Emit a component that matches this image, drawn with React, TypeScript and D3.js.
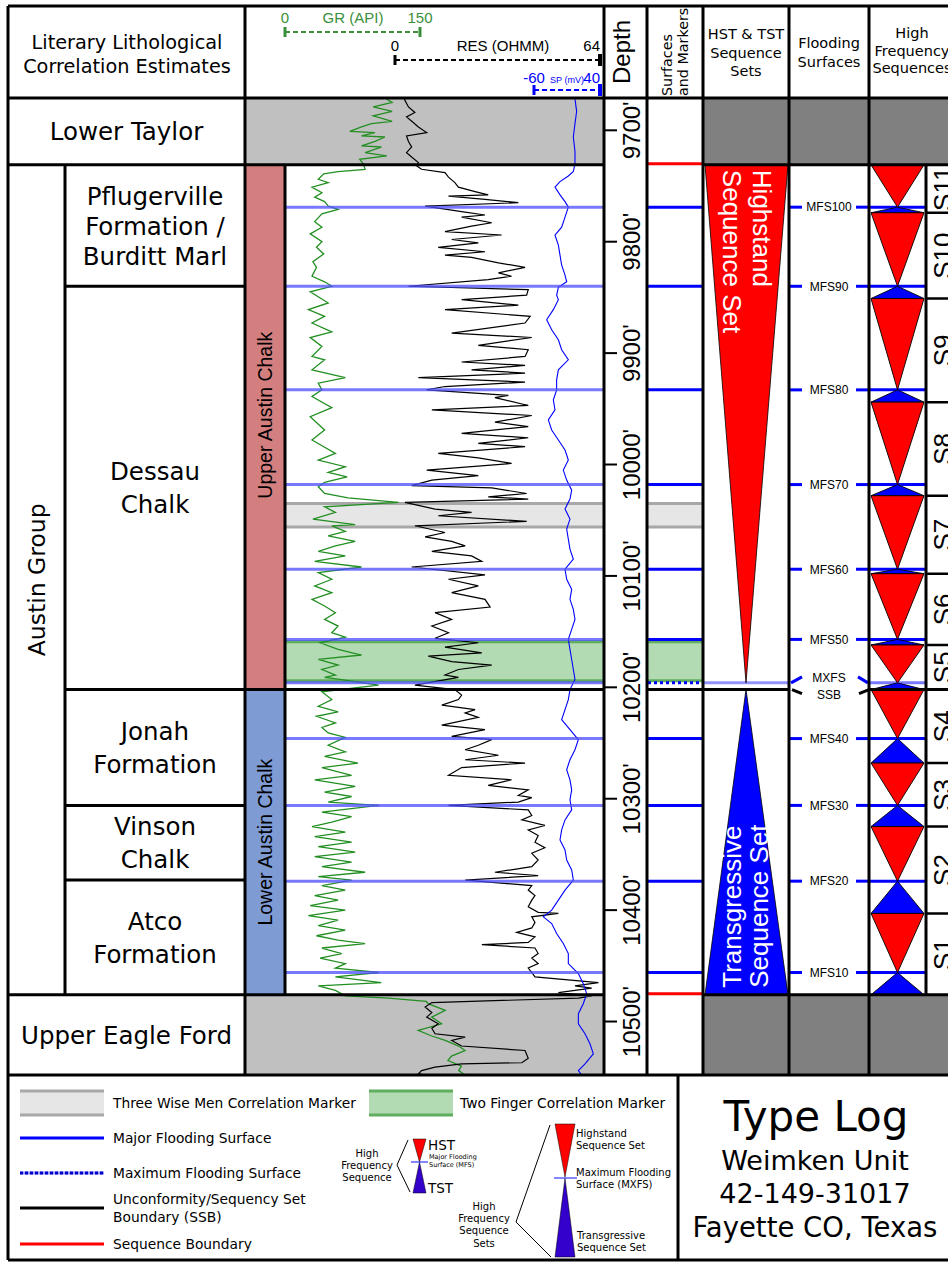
import React from 'react';
import * as d3 from 'd3';

const SANS = "'DejaVu Sans', Verdana, sans-serif";
const ARIAL = "'Liberation Sans', Arial, Helvetica, sans-serif";

// depth axis
const depthTicks = [9700, 9800, 9900, 10000, 10100, 10200, 10300, 10400, 10500];

// log curves: [depth ft, value]
const grLog: [number, number][] = [
  [9672, 113], [9675, 119], [9679, 98], [9683, 119], [9687, 98], [9692, 119], [9694, 96], [9697, 85], [9701, 72], [9702, 100],
  [9705, 85], [9706, 111], [9710, 100], [9714, 85], [9715, 107], [9720, 89], [9723, 113], [9726, 83], [9730, 87], [9735, 89],
  [9737, 59], [9739, 43], [9744, 37], [9747, 48], [9751, 30], [9756, 41], [9760, 33], [9764, 44], [9768, 48], [9771, 59],
  [9775, 41], [9782, 33], [9787, 41], [9793, 28], [9800, 41], [9805, 35], [9811, 43], [9818, 31], [9823, 35], [9831, 30],
  [9836, 44], [9840, 52], [9845, 28], [9855, 48], [9861, 26], [9867, 44], [9873, 30], [9881, 52], [9886, 28], [9894, 41],
  [9903, 30], [9906, 44], [9915, 30], [9922, 67], [9927, 37], [9933, 41], [9939, 30], [9949, 52], [9957, 28], [9969, 44],
  [9978, 30], [9990, 56], [9996, 37], [10002, 67], [10007, 48], [10011, 69], [10016, 44], [10020, 37], [10026, 44], [10030, 70],
  [10034, 126], [10038, 44], [10043, 56], [10049, 31], [10054, 78], [10055, 52], [10060, 67], [10064, 48], [10069, 78], [10073, 56],
  [10078, 37], [10082, 67], [10087, 33], [10092, 85], [10097, 37], [10103, 52], [10109, 33], [10115, 52], [10121, 30], [10127, 44],
  [10133, 56], [10139, 44], [10145, 59], [10151, 52], [10155, 67], [10160, 39], [10166, 59], [10171, 85], [10175, 37], [10180, 59],
  [10184, 41], [10189, 56], [10191, 44], [10193, 63], [10198, 104], [10204, 41], [10211, 52], [10217, 37], [10222, 59], [10226, 35],
  [10232, 56], [10236, 41], [10241, 48], [10245, 67], [10252, 48], [10258, 67], [10262, 44], [10268, 81], [10272, 41], [10279, 74],
  [10283, 33], [10289, 78], [10294, 44], [10298, 74], [10303, 48], [10306, 104], [10312, 41], [10316, 74], [10321, 52], [10325, 30],
  [10330, 67], [10334, 33], [10339, 74], [10343, 37], [10348, 78], [10352, 33], [10357, 74], [10361, 41], [10366, 89], [10370, 37],
  [10373, 74], [10378, 41], [10382, 67], [10387, 33], [10391, 59], [10396, 28], [10400, 67], [10405, 26], [10409, 59], [10414, 37],
  [10418, 67], [10423, 35], [10427, 59], [10430, 89], [10434, 41], [10439, 63], [10443, 39], [10448, 67], [10452, 56], [10456, 104],
  [10460, 56], [10465, 107], [10468, 37], [10472, 56], [10477, 67], [10479, 115], [10482, 157], [10484, 159], [10490, 178], [10496, 163],
  [10502, 174], [10508, 148], [10513, 163], [10517, 178], [10522, 193], [10526, 200], [10531, 185], [10535, 181], [10540, 196], [10544, 193],
  [10548, 200],
];

const resLog: [number, number][] = [
  [9672, 2.9], [9679, 4.2], [9684, 6.2], [9688, 3.6], [9693, 5.7], [9697, 7.3], [9702, 9.9], [9705, 3.6], [9710, 4.2], [9715, 5.2],
  [9720, 3.6], [9724, 5.2], [9729, 7.3], [9732, 6.8], [9735, 8.3], [9738, 15.6], [9742, 16.7], [9747, 18.7], [9751, 19.8], [9755, 25],
  [9758, 29.1], [9759, 16.7], [9762, 28.1], [9765, 38.5], [9768, 9.4], [9773, 20.8], [9776, 28.1], [9778, 20.8], [9783, 30.2], [9786, 23.9],
  [9791, 15.6], [9794, 33.3], [9798, 17.7], [9801, 26], [9805, 13.5], [9809, 28.1], [9812, 15.6], [9814, 23.9], [9819, 32.3], [9823, 40.6],
  [9828, 32.3], [9831, 36.4], [9834, 29.1], [9840, 4.2], [9843, 41.6], [9848, 41.1], [9852, 20.8], [9857, 38.5], [9861, 15.6], [9867, 42.2],
  [9873, 40.6], [9882, 17.7], [9886, 42.7], [9893, 26], [9897, 41.6], [9903, 40.6], [9908, 20.8], [9911, 40.6], [9915, 23.9], [9918, 40.6],
  [9922, 7.3], [9926, 40.6], [9930, 15.6], [9933, 9.9], [9938, 35.4], [9940, 31.2], [9947, 41.6], [9951, 11.5], [9956, 42.7], [9962, 31.2],
  [9966, 41.6], [9972, 20.8], [9976, 41.6], [9981, 26], [9984, 40.6], [9990, 13.5], [9994, 26], [9999, 36.4], [10005, 9.9], [10010, 26],
  [10014, 11.5], [10019, 5.2], [10021, 30.2], [10026, 41.1], [10029, 29.1], [10031, 41.6], [10034, 3.1], [10040, 12.5], [10043, 23.9], [10046, 13.5],
  [10051, 41.1], [10055, 6.2], [10061, 15.6], [10065, 9.4], [10069, 17.7], [10073, 21.9], [10078, 11.5], [10082, 23.9], [10087, 27.1], [10092, 5.2],
  [10099, 28.1], [10103, 16.7], [10109, 26], [10115, 17.7], [10121, 28.1], [10128, 29.7], [10133, 12.5], [10139, 17.7], [10145, 11.5], [10151, 16.7],
  [10156, 12.5], [10160, 26], [10164, 15.6], [10169, 27.1], [10172, 10.4], [10177, 17.7], [10180, 30.2], [10184, 19.8], [10189, 15.6], [10191, 19.8],
  [10198, 6.2], [10202, 18.7], [10207, 20.8], [10211, 19.8], [10216, 14.6], [10220, 25], [10223, 21.9], [10227, 26], [10234, 14.6], [10238, 28.1],
  [10244, 17.7], [10247, 30.2], [10252, 26], [10256, 21.9], [10261, 32.3], [10265, 21.9], [10268, 40.6], [10272, 20.8], [10279, 16.7], [10283, 36.4],
  [10288, 29.1], [10292, 41.6], [10297, 38.5], [10299, 42.7], [10303, 38.5], [10306, 16.7], [10310, 41.6], [10315, 42.7], [10319, 39.6], [10324, 46.8],
  [10328, 41.6], [10333, 44.7], [10339, 43.7], [10344, 46.8], [10349, 42.7], [10355, 44.7], [10361, 42.7], [10366, 31.2], [10369, 44.7], [10373, 21.9],
  [10378, 42.7], [10382, 41.6], [10387, 43.7], [10391, 42.7], [10397, 41.6], [10402, 44.7], [10403, 51], [10406, 42.7], [10411, 43.7], [10416, 42.7],
  [10420, 38], [10424, 43.7], [10429, 41.6], [10431, 27.1], [10434, 43.7], [10439, 44.7], [10443, 42.7], [10448, 44.7], [10452, 41.6], [10456, 42.7],
  [10460, 43.7], [10465, 63.5], [10468, 56.2], [10470, 61.4], [10474, 51], [10477, 61.4], [10479, 57.3], [10483, 11.5], [10487, 9.4], [10492, 11.5],
  [10496, 9.9], [10502, 13.5], [10506, 11.5], [10511, 12.5], [10514, 21.9], [10517, 17.7], [10522, 20.8], [10526, 40.6], [10533, 41.6], [10537, 39.6],
  [10538, 20.8], [10541, 12.5], [10544, 8.3], [10547, 7.3], [10548, 9.4],
];

const spLog: [number, number][] = [
  [9672, 2.1], [9683, 4.6], [9694, 2.1], [9706, -0.4], [9719, 2.1], [9730, 2.1], [9737, -0.4], [9741, -8], [9746, -20.6], [9751, -28.2],
  [9758, -20.6], [9764, -13], [9769, -8], [9778, -13], [9787, -18.1], [9794, -28.2], [9803, -23.1], [9812, -20.6], [9821, -18.1], [9830, -13],
  [9836, -10.5], [9841, -23.1], [9848, -25.7], [9852, -23.1], [9861, -30.7], [9870, -40.8], [9879, -33.2], [9888, -23.1], [9897, -18.1], [9906, -8],
  [9915, -23.1], [9924, -25.7], [9933, -25.7], [9942, -30.7], [9951, -28.2], [9960, -38.3], [9969, -33.2], [9978, -23.1], [9987, -13], [9996, -8],
  [10005, -15.6], [10014, -10.5], [10023, -2.9], [10031, -5.5], [10040, -13], [10049, -5.5], [10058, -10.5], [10067, -8], [10076, -5.5], [10085, -0.4],
  [10094, -13], [10103, -10.5], [10112, -2.9], [10121, -5.5], [10130, -0.4], [10139, 2.1], [10148, -2.9], [10157, -8], [10166, -5.5], [10175, -2.9],
  [10184, -0.4], [10193, 2.1], [10202, -5.5], [10211, -8], [10220, -13], [10229, -18.1], [10238, -5.5], [10247, 7.2], [10256, 2.1], [10265, -5.5],
  [10274, -10.5], [10283, -5.5], [10292, -2.9], [10301, -5.5], [10310, -2.9], [10319, -13], [10328, -18.1], [10337, -20.6], [10346, -13], [10355, -10.5],
  [10364, -2.9], [10373, -0.4], [10382, -13], [10391, -23.1], [10400, -33.2], [10406, -45.9], [10412, -33.2], [10421, -25.7], [10430, -15.6], [10439, -8],
  [10448, -8], [10457, 7.2], [10466, 14.7], [10475, 19.8], [10484, 14.7], [10493, 7.2], [10502, 7.2], [10511, 17.3], [10520, 24.8], [10529, 29.9],
  [10538, 17.3], [10544, 7.2], [10548, 12.2],
];

// stratigraphy
const lowerTaylor = { name: 'Lower Taylor', top: 9671, base: 9731 };
const upperEagleFord = { name: 'Upper Eagle Ford', top: 10476, base: 10548 };
const formations = [
  { lines: ['Pflugerville', 'Formation /', 'Burditt Marl'], top: 9731, base: 9840 },
  { lines: ['Dessau', 'Chalk'], top: 9840, base: 10202 },
  { lines: ['Jonah', 'Formation'], top: 10202, base: 10306 },
  { lines: ['Vinson', 'Chalk'], top: 10306, base: 10373 },
  { lines: ['Atco', 'Formation'], top: 10373, base: 10476 },
];
const members = [
  { name: 'Upper Austin Chalk', top: 9731, base: 10202, color: '#d47f7f' },
  { name: 'Lower Austin Chalk', top: 10202, base: 10476, color: '#7f9bd4' },
];

// surfaces and markers
const mfsSurfaces: [string, number][] = [
  ['MFS100', 9769], ['MFS90', 9840], ['MFS80', 9933], ['MFS70', 10018], ['MFS60', 10094],
  ['MFS50', 10157], ['MFS40', 10246], ['MFS30', 10306], ['MFS20', 10374], ['MFS10', 10456],
];
const mxfsDepth = 10196;
const ssbDepth = 10202;
const sequenceBoundaries = [9731, 10476];
const threeWiseMen = [10035, 10056];
const twoFinger = [10159, 10194];

const hfSequences = [
  { name: 'S11', top: 9731, mfs: 9769, base: 9774 },
  { name: 'S10', top: 9774, mfs: 9840, base: 9851 },
  { name: 'S9', top: 9851, mfs: 9933, base: 9944 },
  { name: 'S8', top: 9944, mfs: 10018, base: 10028 },
  { name: 'S7', top: 10028, mfs: 10094, base: 10098 },
  { name: 'S6', top: 10098, mfs: 10157, base: 10162 },
  { name: 'S5', top: 10162, mfs: 10196, base: 10202 },
  { name: 'S4', top: 10202, mfs: 10246, base: 10268 },
  { name: 'S3', top: 10268, mfs: 10306, base: 10325 },
  { name: 'S2', top: 10325, mfs: 10374, base: 10403 },
  { name: 'S1', top: 10403, mfs: 10456, base: 10476 },
];

const titleLines = ['Type Log', 'Weimken Unit', '42-149-31017', 'Fayette CO, Texas'];

const C = { left: 8, group: 65, form: 245, bar: 285, track: 604, depth: 647, surf: 703, hst: 789, flood: 869, sCol: 926, right: 962 };
const TOP = 6, HEAD = 98, BOTTOM = 1075, LEG = 1260;

export default function App() {
  const y = d3.scaleLinear().domain([lowerTaylor.top, upperEagleFord.base]).range([HEAD, BOTTOM]);
  const xGR = d3.scaleLinear().domain([0, 150]).range([285, 420]);
  const xRES = d3.scaleLinear().domain([0, 64]).range([395, 600]);
  const xSP = d3.scaleLinear().domain([-60, 40]).range([534, 600]);
  const mk = (sx: d3.ScaleLinear<number, number>) =>
    d3.line<[number, number]>().x(d => sx(d[1])).y(d => y(d[0]));

  const ln = (x1: number, y1: number, x2: number, y2: number, stroke = '#000', w = 3, extra: any = {}) => (
    <line x1={x1} y1={y1} x2={x2} y2={y2} stroke={stroke} strokeWidth={w} {...extra} />
  );
  const yLT = y(lowerTaylor.base), yEF = y(upperEagleFord.top), ySSB = y(ssbDepth), yMX = y(mxfsDepth);
  const hstMid = (C.surf + C.hst) / 2;
  const hfMid = (C.flood + C.sCol) / 2;
  const flMid = (C.hst + C.flood) / 2;

  return (
    <svg width={948} height={1262} style={{ position: 'absolute', left: 0, top: 0, background: '#fff' }}>
      <defs>
        <clipPath id="trackClip"><rect x={C.form} y={HEAD} width={C.track - C.form} height={BOTTOM - HEAD} /></clipPath>
      </defs>
      <rect x={0} y={0} width={948} height={1262} fill="#fff" />

      {/* gray units */}
      <rect x={C.form} y={HEAD} width={C.track - C.form} height={yLT - HEAD} fill="#c0c0c0" />
      <rect x={C.form} y={yEF} width={C.track - C.form} height={BOTTOM - yEF} fill="#c0c0c0" />
      <rect x={C.surf} y={HEAD} width={C.right - C.surf} height={yLT - HEAD} fill="#808080" />
      <rect x={C.surf} y={yEF} width={C.right - C.surf} height={BOTTOM - yEF} fill="#808080" />

      {/* members bar */}
      {members.map(m => (
        <g key={m.name}>
          <rect x={C.form} y={y(m.top)} width={C.bar - C.form} height={y(m.base) - y(m.top)} fill={m.color} />
          <text transform={`translate(${C.bar - 13},${(y(m.top) + y(m.base)) / 2 - (m.top === 9731 ? 12 : 0)}) rotate(-90)`}
            textAnchor="middle" fontFamily={ARIAL} fontSize={19.5}>{m.name}</text>
        </g>
      ))}

      {/* correlation bands */}
      {[[threeWiseMen, '#e6e6e6', '#a8a8a8'], [twoFinger, '#b3dbb3', '#5fae5f']].map(([b, fill, edge]: any, i) => (
        <g key={'band' + i}>
          {[[C.bar, C.track], [C.depth, C.surf]].map(([a, z]) => (
            <g key={a}>
              <rect x={a} y={y(b[0])} width={z - a} height={y(b[1]) - y(b[0])} fill={fill} />
              {ln(a, y(b[0]), z, y(b[0]), edge, 3)}
              {ln(a, y(b[1]), z, y(b[1]), edge, 3)}
            </g>
          ))}
        </g>
      ))}

      {/* curves */}
      <g clipPath="url(#trackClip)" fill="none">
        <path d={mk(xGR)(grLog) || ''} stroke="#238f23" strokeWidth={1.3} />
        <path d={mk(xRES)(resLog) || ''} stroke="#000" strokeWidth={1.2} />
        <path d={mk(xSP)(spLog) || ''} stroke="#0000ff" strokeWidth={1.1} />
      </g>

      {/* flooding surfaces in track and surfaces column */}
      {mfsSurfaces.map(([n, d]) => (
        <g key={n}>
          {ln(C.bar, y(d), C.track, y(d), '#4d4dff', 3, { opacity: 0.75 })}
          {ln(C.depth + 1, y(d), C.surf - 1, y(d), '#0000ff', 3)}
          {ln(C.flood, y(d), C.sCol, y(d), '#0000ff', 3)}
          {ln(C.hst + 1, y(d), C.hst + 13, y(d), '#0000ff', 3)}
          {ln(C.flood - 13, y(d), C.flood - 1, y(d), '#0000ff', 3)}
          <text x={flMid} y={y(d) + 4.3} textAnchor="middle" fontFamily={ARIAL} fontSize={12}>{n}</text>
        </g>
      ))}
      {ln(C.bar, yMX, C.track, yMX, '#4d4dff', 3, { opacity: 0.75 })}
      {ln(C.surf, yMX, C.hst, yMX, '#4d4dff', 3, { opacity: 0.6 })}
      {ln(C.flood, yMX, C.sCol, yMX, '#4d4dff', 3, { opacity: 0.75 })}
      {ln(C.depth + 1, yMX, C.surf - 1, yMX, '#0000ff', 3, { strokeDasharray: '3 3' })}
      {sequenceBoundaries.map(d => <g key={d}>{ln(C.depth + 1, y(d) - 1, C.surf - 1, y(d) - 1, '#ff0000', 3)}</g>)}

      {/* HST & TST sequence sets */}
      <polygon points={`${C.surf + 2},${yLT} ${C.hst - 1},${yLT} ${hstMid},${yMX}`} fill="#ff0000" stroke="#000" strokeWidth={0.8} />
      <polygon points={`${hstMid},${ySSB} ${C.hst - 1},${yEF} ${C.surf + 2},${yEF}`} fill="#0000ff" stroke="#000" strokeWidth={0.8} />
      <g fill="#fff" fontFamily={ARIAL} fontSize={26}>
        <text transform={`translate(753,${yLT + 5}) rotate(90)`}>Highstand</text>
        <text transform={`translate(723,${yLT + 5}) rotate(90)`}>Sequence Set</text>
        <text transform={`translate(741,${yEF - 7}) rotate(-90)`}>Transgressive</text>
        <text transform={`translate(768,${yEF - 7}) rotate(-90)`}>Sequence Set</text>
      </g>

      {/* MXFS / SSB label */}
      <g fill="none" strokeWidth={3}>
        <polyline points={`${C.hst + 2},${yMX} ${C.hst + 13},${yMX - 6}`} stroke="#0000ff" />
        <polyline points={`${C.flood - 11},${yMX - 6} ${C.flood - 1},${yMX}`} stroke="#0000ff" />
        <polyline points={`${C.hst + 3},${ySSB} ${C.hst + 13},${ySSB + 4}`} stroke="#000" />
        <polyline points={`${C.flood - 10},${ySSB + 4} ${C.flood},${ySSB}`} stroke="#000" />
      </g>
      <text x={flMid} y={yMX - 1} textAnchor="middle" fontFamily={ARIAL} fontSize={12}>MXFS</text>
      <text x={flMid} y={ySSB + 9} textAnchor="middle" fontFamily={ARIAL} fontSize={12}>SSB</text>

      {/* high frequency sequences */}
      {hfSequences.map(s => (
        <g key={s.name}>
          <polygon points={`${C.flood + 2},${y(s.top)} ${C.sCol - 2},${y(s.top)} ${hfMid},${y(s.mfs)}`} fill="#ff0000" stroke="#000" strokeWidth={0.9} />
          <polygon points={`${hfMid},${y(s.mfs)} ${C.sCol - 2},${y(s.base)} ${C.flood + 2},${y(s.base)}`} fill="#0000ff" stroke="#000" strokeWidth={0.9} />
          {s.base < 10476 && ln(C.sCol, y(s.base), C.right, y(s.base), '#000', 2.5)}
          <text transform={`translate(952,${(y(s.top) + y(s.base)) / 2}) rotate(-90)`} textAnchor="middle" fontFamily={ARIAL} fontSize={26}>{s.name}</text>
        </g>
      ))}

      {/* SSB line */}
      {ln(C.group, ySSB, C.track, ySSB, '#000', 3)}
      {ln(C.depth, ySSB, C.hst, ySSB, '#000', 3)}
      {ln(C.flood, ySSB, C.right, ySSB, '#000', 3)}

      {/* depth track */}
      {depthTicks.map(d => (
        <g key={d}>
          {ln(C.track, y(d), C.track + 13, y(d), '#000', 2)}
          <text transform={`translate(640,${y(d)}) rotate(-90)`} textAnchor="middle" fontFamily={ARIAL} fontSize={24}>{`${d}'`}</text>
        </g>
      ))}

      {/* left column labels */}
      <g fontFamily={SANS} fontSize={24.5} textAnchor="middle">
        <text x={(C.left + C.form) / 2} y={(HEAD + yLT) / 2 + 9}>{lowerTaylor.name}</text>
        <text x={(C.left + C.form) / 2} y={(yEF + BOTTOM) / 2 + 9}>{upperEagleFord.name}</text>
        <text transform={`translate(${(C.left + C.group) / 2 + 8},${(yLT + yEF) / 2}) rotate(-90)`} fontSize={23.5}>Austin Group</text>
        {formations.map(f => {
          const lh = f.lines.length > 2 ? 30 : 33;
          const c = (y(f.top) + y(f.base)) / 2;
          return f.lines.map((t, i) => (
            <text key={t + i} x={(C.group + C.form) / 2} y={c + (i - (f.lines.length - 1) / 2) * lh + 9}>{t}</text>
          ));
        })}
      </g>
      {formations.slice(1).map(f => <g key={'fb' + f.top}>{ln(C.group, y(f.top), C.form, y(f.top))}</g>)}

      {/* header */}
      <g fontFamily={SANS} textAnchor="middle">
        <text x={127} y={49} fontSize={19.3}>Literary Lithological</text>
        <text x={127} y={73} fontSize={19.3}>Correlation Estimates</text>
        <text x={hstMid} y={39} fontSize={14.5}>HST &amp; TST</text>
        <text x={hstMid} y={58} fontSize={14.5}>Sequence</text>
        <text x={hstMid} y={76} fontSize={14.5}>Sets</text>
        <text x={flMid} y={48} fontSize={14.5}>Flooding</text>
        <text x={flMid} y={67} fontSize={14.5}>Surfaces</text>
        <text x={912} y={38} fontSize={14.5}>High</text>
        <text x={912} y={56} fontSize={14.5}>Frequency</text>
        <text x={912} y={73} fontSize={14.5}>Sequences</text>
      </g>
      <text transform="translate(672,96) rotate(-90)" fontFamily={SANS} fontSize={14.3}>Surfaces</text>
      <text transform="translate(688,96) rotate(-90)" fontFamily={SANS} fontSize={14.3}>and Markers</text>
      <text transform="translate(630,52) rotate(-90)" textAnchor="middle" fontFamily={ARIAL} fontSize={24}>Depth</text>

      {/* log scale headers */}
      <g fontFamily={ARIAL} fontSize={15}>
        <g fill="#3a8f3a" textAnchor="middle">
          <text x={xGR(0)} y={23}>0</text>
          <text x={353} y={23}>GR (API)</text>
          <text x={xGR(150)} y={23}>150</text>
        </g>
        {ln(xGR(0), 32, xGR(150), 32, '#3a8f3a', 2, { strokeDasharray: '5 3' })}
        {ln(xGR(0), 27, xGR(0), 37, '#3a8f3a', 3)}
        {ln(xGR(150), 27, xGR(150), 37, '#3a8f3a', 3)}
        <text x={xRES(0)} y={51} textAnchor="middle">0</text>
        <text x={503} y={51} textAnchor="middle">RES (OHMM)</text>
        <text x={xRES(64)} y={51} textAnchor="end">64</text>
        {ln(xRES(0), 60, xRES(64), 60, '#000', 2, { strokeDasharray: '5 3' })}
        {ln(xRES(0), 55, xRES(0), 65, '#000', 3)}
        {ln(xRES(64), 54, xRES(64), 66, '#000', 4)}
        <g fill="#0000ff">
          <text x={xSP(-60)} y={83} textAnchor="middle">-60</text>
          <text x={567} y={83} textAnchor="middle" fontSize={9}>SP (mV)</text>
          <text x={xSP(40)} y={83} textAnchor="end">40</text>
        </g>
        {ln(xSP(-60), 90, xSP(40), 90, '#0000ff', 2, { strokeDasharray: '5 3' })}
        {ln(xSP(-60), 85, xSP(-60), 95, '#0000ff', 3)}
        {ln(xSP(40), 84, xSP(40), 96, '#0000ff', 4)}
      </g>

      {/* grid */}
      <g stroke="#000" strokeWidth={3}>
        {ln(C.left, TOP, C.right, TOP)}
        {ln(C.left, HEAD, C.right, HEAD)}
        {ln(C.left, yLT, C.track, yLT)}
        {ln(C.surf, yLT, C.right, yLT)}
        {ln(C.left, yEF, C.track, yEF)}
        {ln(C.surf, yEF, C.right, yEF)}
        {ln(C.left, BOTTOM, C.right, BOTTOM)}
        {ln(C.left, LEG, C.right, LEG)}
        {ln(C.left, TOP, C.left, LEG)}
        {ln(C.group, yLT, C.group, yEF)}
        {ln(C.form, TOP, C.form, BOTTOM)}
        {ln(C.bar, yLT, C.bar, yEF)}
        {ln(C.track, TOP, C.track, BOTTOM)}
        {ln(C.depth, TOP, C.depth, BOTTOM)}
        {ln(C.surf, TOP, C.surf, BOTTOM)}
        {ln(C.hst, TOP, C.hst, BOTTOM)}
        {ln(C.flood, TOP, C.flood, BOTTOM)}
        {ln(C.sCol, yLT, C.sCol, yEF)}
        {ln(678, BOTTOM, 678, LEG)}
      </g>

      {/* legend */}
      <g fontFamily={SANS} fontSize={13.8}>
        <rect x={20} y={1091} width={84} height={24} fill="#e6e6e6" />
        {ln(20, 1091, 104, 1091, '#a8a8a8', 3)}
        {ln(20, 1115, 104, 1115, '#a8a8a8', 3)}
        <text x={113} y={1108}>Three Wise Men Correlation Marker</text>
        <rect x={369} y={1091} width={84} height={24} fill="#b3dbb3" />
        {ln(369, 1091, 453, 1091, '#5fae5f', 3)}
        {ln(369, 1115, 453, 1115, '#5fae5f', 3)}
        <text x={460} y={1108}>Two Finger Correlation Marker</text>
        {ln(20, 1138, 104, 1138, '#0000ff', 3)}
        <text x={113} y={1143}>Major Flooding Surface</text>
        {ln(20, 1173, 104, 1173, '#9a9aff', 3)}
        {ln(20, 1173, 104, 1173, '#0000cc', 3, { strokeDasharray: '3 2' })}
        <text x={113} y={1178}>Maximum Flooding Surface</text>
        {ln(20, 1208, 104, 1208, '#000', 3)}
        <text x={113} y={1204}>Unconformity/Sequency Set</text>
        <text x={113} y={1222}>Boundary (SSB)</text>
        {ln(20, 1244, 104, 1244, '#ff0000', 3)}
        <text x={113} y={1249}>Sequence Boundary</text>

        <g fontSize={10} textAnchor="middle">
          <text x={367} y={1157}>High</text>
          <text x={367} y={1169}>Frequency</text>
          <text x={367} y={1181}>Sequence</text>
        </g>
        <polyline points="408,1140 397,1165 410,1192" fill="none" stroke="#000" strokeWidth={1} />
        <polygon points="413,1139 426,1139 419.5,1162" fill="#ff0000" stroke="#000" strokeWidth={0.5} />
        <polygon points="419.5,1162 426,1193 413,1193" fill="#3300cc" stroke="#000" strokeWidth={0.5} />
        {ln(411, 1162, 428, 1162, '#3333ff', 1.2)}
        <text x={428} y={1150} fontSize={13.5}>HST</text>
        <text x={429} y={1159} fontSize={6.5}>Major Flooding</text>
        <text x={429} y={1167} fontSize={6.5}>Surface (MFS)</text>
        <text x={428} y={1193} fontSize={13.5}>TST</text>

        <g fontSize={10} textAnchor="middle">
          <text x={484} y={1210}>High</text>
          <text x={484} y={1222}>Frequency</text>
          <text x={484} y={1234}>Sequence</text>
          <text x={484} y={1247}>Sets</text>
        </g>
        <polyline points="550,1125 516,1222 551,1257" fill="none" stroke="#000" strokeWidth={1} />
        <polygon points="555,1124 575,1124 565,1177" fill="#ff0000" stroke="#000" strokeWidth={0.5} />
        <polygon points="565,1178 575,1257 555,1257" fill="#3300cc" stroke="#000" strokeWidth={0.5} />
        {ln(554, 1178, 577, 1178, '#3333ff', 1.2)}
        <g fontSize={10}>
          <text x={576} y={1137}>Highstand</text>
          <text x={576} y={1149}>Sequence Set</text>
          <text x={576} y={1176}>Maximum Flooding</text>
          <text x={576} y={1188}>Surface (MXFS)</text>
          <text x={577} y={1239}>Transgressive</text>
          <text x={577} y={1251}>Sequence Set</text>
        </g>
      </g>

      <g fontFamily={SANS} textAnchor="middle">
        <text x={816} y={1131} fontSize={42}>{titleLines[0]}</text>
        <text x={815} y={1170} fontSize={27}>{titleLines[1]}</text>
        <text x={815} y={1203} fontSize={27}>{titleLines[2]}</text>
        <text x={815} y={1237} fontSize={27.5}>{titleLines[3]}</text>
      </g>
    </svg>
  );
}
